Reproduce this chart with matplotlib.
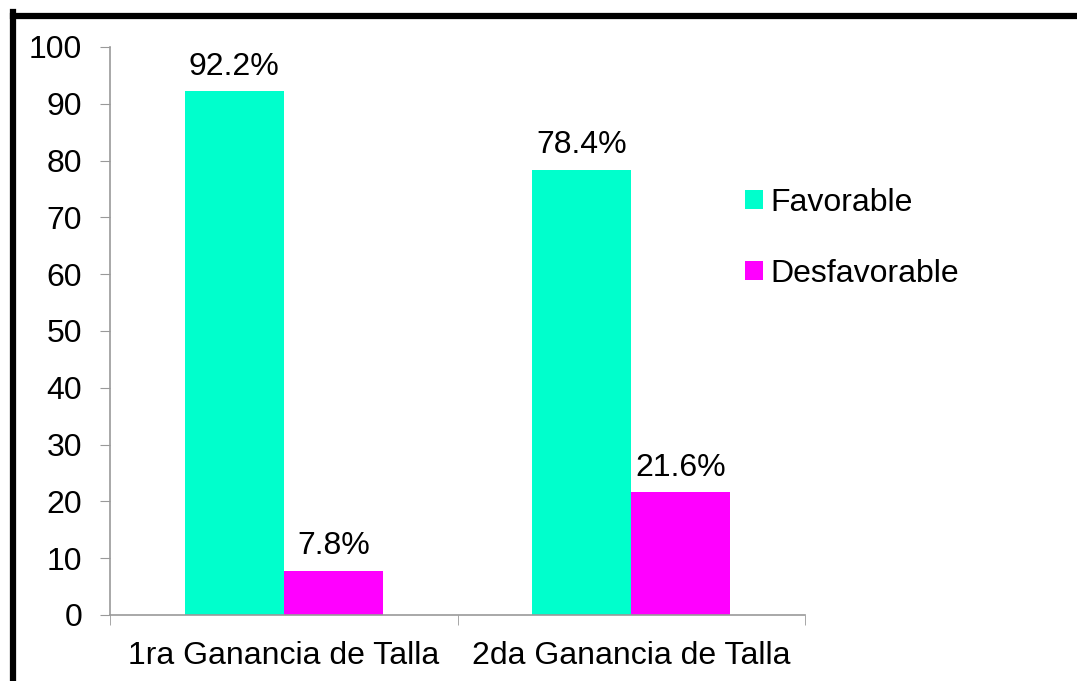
import matplotlib
matplotlib.use("Agg")
import matplotlib.pyplot as plt
import numpy as np
from matplotlib.lines import Line2D

plt.rcParams['font.family'] = ['Liberation Sans', 'DejaVu Sans']

categories = ['1ra Ganancia de Talla', '2da Ganancia de Talla']
favorable = [92.2, 78.4]
desfavorable = [7.8, 21.6]
series_names = ['Favorable', 'Desfavorable']
colors = ['#00FFCC', '#FF00FF']

W, H = 1077, 681
fs = 23
fig = plt.figure(figsize=(W / 100, H / 100), dpi=100)
ax = fig.add_axes([110 / W, 1 - 615 / H, (805 - 110) / W, (615 - 47) / H])

x = np.arange(len(categories))
width = 0.285
b1 = ax.bar(x - width / 2, favorable, width, color=colors[0], label=series_names[0])
b2 = ax.bar(x + width / 2, desfavorable, width, color=colors[1], label=series_names[1])

for bars, vals in [(b1, favorable), (b2, desfavorable)]:
    for rect, v in zip(bars, vals):
        ax.annotate(f'{v}%', (rect.get_x() + rect.get_width() / 2, v),
                    xytext=(0, 7), textcoords='offset points',
                    ha='center', va='bottom', fontsize=fs)

ax.set_xlim(-0.5, 1.5)
ax.set_ylim(0, 100)
ax.set_yticks(range(0, 101, 10))
ax.set_xticks(x)
ax.set_xticklabels(categories)
ax.set_xticks([-0.5, 0.5, 1.5], minor=True)
ax.tick_params(axis='x', which='major', length=0, pad=19, labelsize=fs)
ax.tick_params(axis='x', which='minor', length=7, color='#999999', direction='out')
ax.tick_params(axis='y', length=7, color='#999999', labelsize=fs, pad=13)

for s in ['top', 'right']:
    ax.spines[s].set_visible(False)
for s in ['left', 'bottom']:
    ax.spines[s].set_color('#999999')
    ax.spines[s].set_linewidth(1.2)

ax.legend(loc='upper left', bbox_to_anchor=(745 / W, 1 - 188 / H),
          bbox_transform=fig.transFigure, frameon=False, fontsize=fs,
          handlelength=0.55, handleheight=0.55, handletextpad=0.25,
          labelspacing=1.27, borderaxespad=0, borderpad=0)

# marco negro
fig.add_artist(Line2D([13 / W, 13 / W], [0, 1 - 12 / H], color='black', lw=4.5,
                      transform=fig.transFigure, solid_capstyle='projecting'))
fig.add_artist(Line2D([13 / W, 1], [1 - 15.5 / H, 1 - 15.5 / H], color='black', lw=4.5,
                      transform=fig.transFigure, solid_capstyle='projecting'))

fig.savefig('out.png', dpi=100)
